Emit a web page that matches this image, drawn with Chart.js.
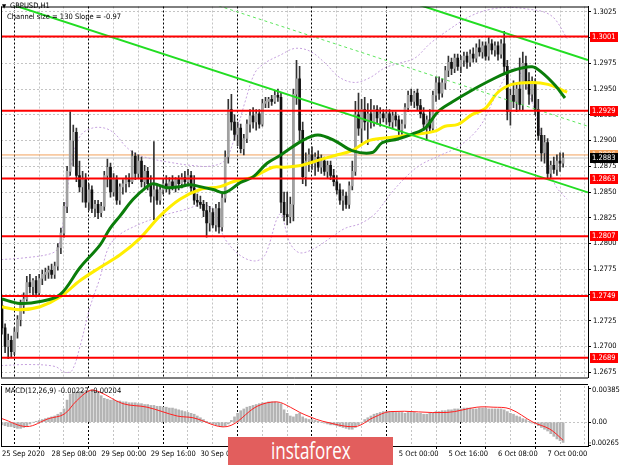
<!DOCTYPE html>
<html><head><meta charset="utf-8">
<script src="https://cdn.jsdelivr.net/npm/chart.js@4.4.1/dist/chart.umd.min.js"></script>
<style>
html,body{margin:0;padding:0;background:#fff;}
body{width:620px;height:465px;position:relative;overflow:hidden;}
canvas{position:absolute;left:0;}
#cMain{top:0;}
#cMacd{top:384px;}
.t{position:absolute;font-family:'DejaVu Sans Condensed','Liberation Sans',Arial,sans-serif;font-size:7.5px;color:#000;white-space:nowrap;line-height:1;}
#logo{position:absolute;left:228px;top:437px;width:165px;height:28px;background:#e25e5d;overflow:hidden;}
#logo span{position:absolute;left:43px;top:0;color:#fff;font-family:'Open Sans','Liberation Sans',sans-serif;font-size:23px;line-height:27px;transform-origin:0 50%;transform:scaleX(0.74);}
</style></head>
<body>
<canvas id="cMain" width="620" height="384"></canvas>
<canvas id="cMacd" width="620" height="81"></canvas>
<div class="t" style="left:2px;top:3px;font-size:6px">&#9660;</div>
<div class="t" style="left:10px;top:2px">GBPUSD,H1</div>
<div class="t" style="left:7px;top:13px">Channel size = 130 Slope = -0.97</div>
<div class="t" style="left:5px;top:387px">MACD(12,26,9) -0.00227 -0.00204</div>
<div id="logo"><span>instaforex</span></div>
<script>
// ---------- DATA ----------
const opens = [1.2740,1.2718,1.2700,1.2706,1.2695,1.2714,1.2726,1.2740,1.2746,1.2762,
1.2758,1.2764,1.2752,1.2766,1.2770,1.2772,1.2774,1.2770,1.2778,1.2796,
1.2810,1.2836,1.2870,1.2900,1.2908,1.2866,1.2855,1.2862,1.2840,1.2852,
1.2834,1.2838,1.2830,1.2836,1.2866,1.2874,1.2850,1.2862,1.2842,1.2855,
1.2858,1.2862,1.2860,1.2885,1.2868,1.2880,1.2860,1.2870,1.2858,1.2846,
1.2852,1.2842,1.2852,1.2858,1.2854,1.2860,1.2856,1.2862,1.2858,1.2864,
1.2860,1.2866,1.2854,1.2842,1.2840,1.2838,1.2832,1.2820,1.2830,1.2818,
1.2834,1.2816,1.2844,1.2884,1.2930,1.2918,1.2906,1.2912,1.2892,1.2902,
1.2916,1.2924,1.2918,1.2926,1.2916,1.2936,1.2938,1.2940,1.2938,1.2944,
1.2942,1.2840,1.2828,1.2826,1.2838,1.2945,1.2960,1.2910,1.2865,1.2880,
1.2886,1.2878,1.2884,1.2874,1.2880,1.2870,1.2876,1.2866,1.2860,1.2852,
1.2842,1.2846,1.2838,1.2856,1.2870,1.2925,1.2912,1.2930,1.2918,1.2926,
1.2918,1.2930,1.2922,1.2926,1.2922,1.2926,1.2918,1.2924,1.2920,1.2910,
1.2916,1.2932,1.2944,1.2938,1.2946,1.2934,1.2926,1.2916,1.2920,1.2912,
1.2944,1.2956,1.2946,1.2956,1.2968,1.2976,1.2970,1.2980,1.2972,1.2978,
1.2982,1.2976,1.2984,1.2980,1.2990,1.2986,1.2992,1.2982,1.2994,1.2988,
1.2992,1.2984,1.2994,1.2972,1.2928,1.2944,1.2938,1.2950,1.2935,1.2975,
1.2958,1.2945,1.2955,1.2930,1.2905,1.2888,1.2898,1.2868,1.2876,1.2872,
1.2880,1.2878];
const highs = [1.2745,1.2722,1.2712,1.2710,1.2718,1.2730,1.2745,1.2752,1.2768,1.2770,
1.2766,1.2768,1.2770,1.2774,1.2776,1.2778,1.2780,1.2782,1.2800,1.2815,
1.2840,1.2875,1.2928,1.2915,1.2912,1.2880,1.2870,1.2868,1.2858,1.2856,
1.2842,1.2842,1.2840,1.2870,1.2882,1.2878,1.2868,1.2866,1.2858,1.2862,
1.2866,1.2868,1.2890,1.2888,1.2886,1.2884,1.2876,1.2874,1.2866,1.2899,
1.2858,1.2856,1.2862,1.2866,1.2864,1.2866,1.2864,1.2866,1.2868,1.2870,
1.2872,1.2870,1.2866,1.2848,1.2846,1.2842,1.2840,1.2836,1.2834,1.2838,
1.2840,1.2848,1.2890,1.2940,1.2945,1.2925,1.2918,1.2916,1.2906,1.2920,
1.2930,1.2932,1.2930,1.2930,1.2940,1.2942,1.2942,1.2944,1.2948,1.2950,
1.2946,1.2850,1.2850,1.2845,1.2950,1.2978,1.2972,1.2918,1.2888,1.2892,
1.2894,1.2888,1.2890,1.2886,1.2884,1.2880,1.2880,1.2872,1.2866,1.2858,
1.2852,1.2850,1.2860,1.2880,1.2938,1.2946,1.2940,1.2942,1.2936,1.2940,
1.2934,1.2934,1.2932,1.2930,1.2930,1.2930,1.2928,1.2928,1.2924,1.2920,
1.2936,1.2948,1.2950,1.2948,1.2950,1.2940,1.2932,1.2924,1.2930,1.2948,
1.2962,1.2962,1.2960,1.2972,1.2982,1.2980,1.2984,1.2984,1.2982,1.2986,
1.2986,1.2988,1.2990,1.2994,1.2998,1.2996,1.2996,1.3000,1.2998,1.2996,
1.2996,1.2998,1.3006,1.2978,1.2950,1.2958,1.2955,1.2980,1.2986,1.2982,
1.2966,1.2962,1.2960,1.2940,1.2912,1.2905,1.2902,1.2880,1.2884,1.2886,
1.2888,1.2888];
const lows = [1.2712,1.2694,1.2688,1.2690,1.2692,1.2708,1.2720,1.2732,1.2744,1.2752,
1.2750,1.2748,1.2750,1.2760,1.2764,1.2766,1.2766,1.2766,1.2774,1.2790,
1.2806,1.2830,1.2866,1.2875,1.2860,1.2850,1.2840,1.2835,1.2832,1.2830,
1.2826,1.2824,1.2826,1.2832,1.2855,1.2845,1.2846,1.2838,1.2838,1.2848,
1.2850,1.2855,1.2858,1.2862,1.2864,1.2855,1.2854,1.2852,1.2840,1.2823,
1.2838,1.2838,1.2848,1.2850,1.2848,1.2852,1.2850,1.2852,1.2854,1.2856,
1.2856,1.2850,1.2838,1.2836,1.2834,1.2826,1.2806,1.2812,1.2815,1.2812,
1.2810,1.2812,1.2840,1.2878,1.2910,1.2900,1.2895,1.2888,1.2886,1.2898,
1.2908,1.2912,1.2910,1.2912,1.2914,1.2932,1.2932,1.2934,1.2936,1.2938,
1.2830,1.2822,1.2818,1.2820,1.2822,1.2935,1.2900,1.2858,1.2856,1.2870,
1.2872,1.2866,1.2870,1.2868,1.2866,1.2864,1.2862,1.2856,1.2848,1.2838,
1.2832,1.2834,1.2834,1.2852,1.2866,1.2905,1.2898,1.2910,1.2896,1.2912,
1.2914,1.2916,1.2914,1.2918,1.2916,1.2914,1.2912,1.2914,1.2904,1.2906,
1.2912,1.2928,1.2934,1.2932,1.2930,1.2922,1.2910,1.2900,1.2908,1.2908,
1.2938,1.2940,1.2942,1.2950,1.2962,1.2964,1.2966,1.2968,1.2966,1.2972,
1.2970,1.2972,1.2976,1.2976,1.2982,1.2980,1.2978,1.2978,1.2984,1.2982,
1.2978,1.2980,1.2966,1.2920,1.2915,1.2932,1.2928,1.2930,1.2930,1.2950,
1.2935,1.2938,1.2925,1.2900,1.2880,1.2878,1.2862,1.2863,1.2868,1.2866,
1.2870,1.2874];
const closes = [1.2718,1.2700,1.2706,1.2695,1.2714,1.2726,1.2740,1.2746,1.2762,1.2758,
1.2764,1.2752,1.2766,1.2770,1.2772,1.2774,1.2770,1.2778,1.2796,1.2810,
1.2836,1.2870,1.2900,1.2908,1.2866,1.2855,1.2862,1.2840,1.2852,1.2834,
1.2838,1.2830,1.2836,1.2866,1.2874,1.2850,1.2862,1.2842,1.2855,1.2858,
1.2862,1.2860,1.2885,1.2868,1.2880,1.2860,1.2870,1.2858,1.2846,1.2852,
1.2842,1.2852,1.2858,1.2854,1.2860,1.2856,1.2862,1.2858,1.2864,1.2860,
1.2866,1.2854,1.2842,1.2840,1.2838,1.2832,1.2820,1.2830,1.2818,1.2834,
1.2816,1.2844,1.2884,1.2930,1.2918,1.2906,1.2912,1.2892,1.2902,1.2916,
1.2924,1.2918,1.2926,1.2916,1.2936,1.2938,1.2940,1.2938,1.2944,1.2942,
1.2840,1.2828,1.2826,1.2838,1.2945,1.2960,1.2910,1.2865,1.2880,1.2886,
1.2878,1.2884,1.2874,1.2880,1.2870,1.2876,1.2866,1.2860,1.2852,1.2842,
1.2846,1.2838,1.2856,1.2870,1.2925,1.2912,1.2930,1.2918,1.2926,1.2918,
1.2930,1.2922,1.2926,1.2922,1.2926,1.2918,1.2924,1.2920,1.2910,1.2916,
1.2932,1.2944,1.2938,1.2946,1.2934,1.2926,1.2916,1.2920,1.2912,1.2944,
1.2956,1.2946,1.2956,1.2968,1.2976,1.2970,1.2980,1.2972,1.2978,1.2982,
1.2976,1.2984,1.2980,1.2990,1.2986,1.2992,1.2982,1.2994,1.2988,1.2992,
1.2984,1.2994,1.2972,1.2928,1.2944,1.2938,1.2950,1.2935,1.2975,1.2958,
1.2945,1.2955,1.2930,1.2905,1.2888,1.2898,1.2868,1.2876,1.2872,1.2880,
1.2878,1.2883];

const maGreenBars = [-0.3,5.8,12.3,18.7,25.2,31.6,34.8,38.1,42.3,46.8,48.7,53.2,57.4,60.6,63.9,68.1,71.9,76.8,81.0,85.5,89.7,96.8,101.9,107.4,112.9,119.4,122.6,127.7,132.3,136.5,140.6,145.2,151.6,158.1,164.5,171.0,174.2,178.4,181.6];
const maGreenVals = [1.27464,1.27417,1.27436,1.27502,1.27767,1.27984,1.28145,1.28268,1.28429,1.28552,1.28580,1.28542,1.28552,1.28571,1.28552,1.28524,1.28495,1.28590,1.28647,1.28779,1.28855,1.28997,1.29053,1.28997,1.28902,1.28883,1.28978,1.29015,1.29063,1.29120,1.29280,1.29375,1.29489,1.29593,1.29678,1.29716,1.29659,1.29536,1.29413];
const maYellowBars = [-0.3,5.8,12.3,18.7,25.2,31.6,38.1,44.5,51.0,57.4,63.9,70.3,74.5,81.0,87.4,91.3,96.8,101.9,107.4,112.9,118.1,123.5,129.0,134.2,139.7,142.9,147.1,151.6,155.8,160.0,164.5,171.0,176.1,182.3];
const maYellowVals = [1.27385,1.27356,1.27385,1.27479,1.27640,1.27767,1.27890,1.28050,1.28268,1.28429,1.28524,1.28552,1.28599,1.28647,1.28741,1.28741,1.28760,1.28807,1.28855,1.28902,1.28997,1.29025,1.29044,1.29063,1.29091,1.29139,1.29157,1.29252,1.29309,1.29469,1.29545,1.29564,1.29545,1.29470];

const bandUpBars = [-0.3,7.4,15.5,18.1,20.3,22.6,25.2,29.0,33.2,36.5,39.7,42.9,47.7,54.2,60.6,67.1,71.9,75.2,78.4,81.6,84.8,89.7,94.5,99.4,104.2,109.0,113.9,118.7,123.5,128.4,133.2,138.1,144.5,151.0,157.4,163.9,170.3,175.2,178.4,182.3];
const bandUpVals = [1.27843,1.27861,1.27899,1.27956,1.28334,1.28807,1.29044,1.29120,1.29120,1.29063,1.28949,1.28874,1.28826,1.28788,1.28760,1.28751,1.28807,1.29044,1.29375,1.29659,1.29753,1.29829,1.29895,1.29867,1.29753,1.29611,1.29564,1.29611,1.29706,1.29753,1.29801,1.29943,1.30084,1.30207,1.30274,1.30293,1.30274,1.30245,1.30179,1.29990];
const bandLoBars = [-0.3,9.0,17.1,20.3,22.6,25.2,28.4,31.6,34.2,37.4,42.9,51.0,59.0,65.5,68.7,71.9,76.8,81.6,84.8,89.7,92.9,96.1,101.0,105.8,110.6,115.5,120.3,125.2,130.0,134.8,141.3,147.7,154.2,159.0,162.3,165.5,168.7,171.9,175.2,178.4,182.3];
const bandLoVals = [1.26814,1.26824,1.26805,1.26748,1.26767,1.27004,1.27382,1.27666,1.27950,1.28074,1.28168,1.28263,1.28329,1.28377,1.28282,1.28046,1.27885,1.27830,1.27885,1.28287,1.28003,1.27909,1.27956,1.28051,1.28146,1.28192,1.28287,1.28476,1.28637,1.28760,1.28855,1.28949,1.29139,1.29422,1.29611,1.29706,1.29564,1.29280,1.28902,1.28571,1.28429];

const channelBars = [0, 189];
const channelLower = [1.30352, 1.28496];
const channelMid = [1.30995, 1.29139];
const channelUpper = [1.31639, 1.29783];

const levels = [1.3001, 1.2929, 1.2863, 1.2807, 1.2749, 1.2689];
const askPrice = 1.2886;
const bidPrice = 1.2883;
const priceTicks = [1.2675,1.2700,1.2725,1.2750,1.2775,1.2800,1.2825,1.2850,1.2875,1.2900,1.2925,1.2950,1.2975,1.3000,1.3025];

const macdHist = [-0.0003,-0.0004,-0.0005,-0.0005,
-0.0006,-0.0007,-0.0007,-0.0006,-0.0005,
-0.0002,0.0000,0.0001,
0.0002,0.0003,0.0004,0.0005,0.0006,0.0007,0.0009,0.0011,
0.0015,0.0025,0.0032,0.0034,0.0034,0.0035,0.0035,0.0036,0.0036,0.0037,0.0036,0.0035,
0.0030,0.0027,0.0026,0.0025,0.0025,0.0024,
0.0024,0.0023,0.0023,0.0022,0.0022,0.0022,0.0021,0.0021,0.0020,0.0020,0.0019,0.0019,0.0018,0.0018,0.0017,
0.0017,0.0016,0.0016,0.0015,0.0014,0.0013,0.0012,0.0011,0.0010,0.0009,0.0007,
0.0005,0.0003,0.0001,-0.0001,-0.0002,-0.0003,-0.0004,-0.0005,-0.0004,-0.0002,
0.0002,0.0006,0.0010,0.0013,0.0015,0.0017,0.0018,
0.0019,0.0020,0.0021,0.0022,0.0022,0.0023,0.0023,0.0023,0.0022,0.0021,
0.0014,0.0010,0.0007,0.0006,0.0009,0.0010,0.0006,0.0004,0.0003,0.0003,
0.0002,0.0001,0.0000,-0.0001,-0.0002,-0.0003,-0.0003,-0.0004,-0.0005,-0.0006,-0.0007,-0.0008,-0.0008,-0.0006,-0.0003,
0.0000,0.0003,0.0005,0.0007,0.0009,0.0010,0.0011,0.0012,0.0012,
0.0012,0.0012,0.0011,0.0011,0.0011,0.0010,0.0011,0.0011,0.0011,0.0010,0.0010,0.0009,0.0009,0.0010,0.0011,0.0012,0.0012,0.0013,0.0013,
0.0014,0.0014,0.0015,0.0015,0.0015,0.0016,0.0016,0.0016,0.0015,0.0015,0.0016,0.0016,0.0016,0.0015,0.0015,0.0015,0.0015,0.0015,0.0014,
0.0012,0.0010,0.0009,0.0007,0.0006,0.0004,0.0003,
0.0001,-0.0001,-0.0002,-0.0004,-0.0006,-0.0008,-0.0010,
-0.0013,-0.0016,-0.0019,-0.0021,-0.0023];
const signalBars = [0,8,15,20,24,28.4,31.6,39,46.8,56.5,61.6,72.6,82.3,88.7,93,96.1,99.4,103.5,113.9,119.7,125.2,143.5,153.2,158.4,163.9,171.3,176.8,181];
const signalVals = [0.0004,-0.0005,0.0004,0.0009,0.0024,0.0036,0.0034,0.0021,0.0017,0.0007,0.0005,-0.0005,0.0018,0.0023,0.0017,0.0011,0.0006,0.0001,-0.0005,0.0005,0.0012,0.0011,0.0017,0.0017,0.0015,0.0000,-0.0008,-0.00204];
const macdTicks = [-0.00265, 0, 0.00385];
const macdTickLabels = ['-0.00265', '0.00', '0.00385'];

const timeTickBars = [0,16,32,48,64,80,96,112,128,144,160,176];
const timeTickLabels = ['25 Sep 2020','28 Sep 08:00','29 Sep 00:00','29 Sep 16:00','30 Sep 08:00','1 Oct 00:00','1 Oct 16:00','2 Oct 08:00','5 Oct 00:00','5 Oct 16:00','6 Oct 08:00','7 Oct 00:00'];
const gridStep = 8;
const dayBars = 24, firstDayBar = 8;

// ---------- STYLE / LAYOUT ----------
const X_MIN = -0.32, X_MAX = 189.03;
const FONT = "'DejaVu Sans Condensed','Liberation Sans',Arial,sans-serif";
const FS = 7.5;
const gridBars = [];
for (let b = 0; b <= X_MAX; b += gridStep) gridBars.push(b);
const tv = c => (c && c.tick) ? c.tick.value : NaN;
const isDay = v => (v - firstDayBar) % dayBars === 0;
const pts = (xs, ys) => xs.map((x, i) => ({x, y: ys[i]}));
const hline = v => [{x: X_MIN, y: v}, {x: X_MAX, y: v}];
const xGridColor = c => isDay(tv(c)) ? '#000' : '#c4c4c4';

const framePlugin = {
  id: 'frame',
  afterDraw(chart) {
    const {ctx, chartArea: a} = chart;
    ctx.save();
    ctx.strokeStyle = '#000'; ctx.lineWidth = 1;
    ctx.beginPath();
    ctx.moveTo(a.left + 0.5, a.top); ctx.lineTo(a.left + 0.5, a.bottom);
    if (chart.canvas.id === 'cMacd') { ctx.moveTo(a.left, a.top - 1.5); ctx.lineTo(a.right, a.top - 1.5); }
    else { ctx.moveTo(a.left, a.top + 0.5); ctx.lineTo(a.right, a.top + 0.5); ctx.moveTo(a.left, a.bottom + 0.5); ctx.lineTo(a.right, a.bottom + 0.5); }
    ctx.stroke();
    ctx.restore();
  }
};

const boxPlugin = {
  id: 'boxes',
  afterDraw(chart) {
    const {ctx, scales: {y}} = chart;
    ctx.save();
    ctx.font = FS + 'px ' + FONT;
    ctx.textBaseline = 'middle';
    const box = (v, bg, fg) => {
      const py = Math.round(y.getPixelForValue(v));
      ctx.fillStyle = bg; ctx.fillRect(y.left + 2, py - 5, 28, 10);
      ctx.fillStyle = fg; ctx.fillText(v.toFixed(4), y.left + 4, py + 0.5);
    };
    levels.forEach(l => box(l, '#ff0000', '#ffffff'));
    box(askPrice, '#f2a15c', '#ffffff');
    box(bidPrice, '#000000', '#ffffff');
    ctx.restore();
  }
};

// MACD scale labels, kept inside the panel like the terminal does
const macdLabelPlugin = {
  id: 'macdLabels',
  afterDraw(chart) {
    const {ctx, chartArea: a, scales: {y}} = chart;
    ctx.save();
    ctx.font = FS + 'px ' + FONT;
    ctx.fillStyle = '#000';
    ctx.textBaseline = 'middle';
    macdTicks.forEach((v, k) => {
      const py = Math.min(Math.max(y.getPixelForValue(v), a.top + 4), a.bottom - 3);
      ctx.fillText(macdTickLabels[k], y.left + (v < 0 ? 1 : 4), py, 618 - y.left);
    });
    ctx.restore();
  }
};

const bull = '#a0a0a0', bear = '#111111';
const mainDatasets = [];
levels.forEach(l => mainDatasets.push({type: 'line', data: hline(l), borderColor: '#ff0000', borderWidth: 2, pointRadius: 0, order: 1}));
mainDatasets.push({type: 'line', data: pts(channelBars, channelUpper), borderColor: '#22dd22', borderWidth: 2, pointRadius: 0, order: 2});
mainDatasets.push({type: 'line', data: pts(channelBars, channelLower), borderColor: '#22dd22', borderWidth: 2, pointRadius: 0, order: 2});
mainDatasets.push({type: 'line', data: pts(channelBars, channelMid), borderColor: '#5ee65e', borderWidth: 1, borderDash: [3, 3], pointRadius: 0, order: 2});
mainDatasets.push({type: 'line', data: pts(maGreenBars, maGreenVals), borderColor: '#0a7d0a', borderWidth: 3, pointRadius: 0, tension: 0.35, order: 3});
mainDatasets.push({type: 'line', data: pts(maYellowBars, maYellowVals), borderColor: '#ffee00', borderWidth: 3, pointRadius: 0, tension: 0.35, order: 4});
mainDatasets.push({type: 'bar', data: opens.map((o, i) => ({x: i, y: [Math.min(o, closes[i]), Math.max(o, closes[i])]})),
  backgroundColor: c => (closes[c.dataIndex] >= opens[c.dataIndex]) ? bull : bear,
  barThickness: 2, minBarLength: 1, grouped: false, order: 5});
mainDatasets.push({type: 'bar', data: highs.map((h, i) => ({x: i, y: [lows[i], h]})),
  backgroundColor: '#333333', barThickness: 1, grouped: false, order: 6});
mainDatasets.push({type: 'line', data: pts(bandUpBars, bandUpVals), borderColor: '#c6a2de', borderWidth: 1, borderDash: [2, 2], pointRadius: 0, tension: 0.35, order: 7});
mainDatasets.push({type: 'line', data: pts(bandLoBars, bandLoVals), borderColor: '#c6a2de', borderWidth: 1, borderDash: [2, 2], pointRadius: 0, tension: 0.35, order: 7});
mainDatasets.push({type: 'line', data: hline(askPrice), borderColor: '#f2a15c', borderWidth: 1, pointRadius: 0, order: 8});
mainDatasets.push({type: 'line', data: hline(bidPrice), borderColor: '#c0c0c0', borderWidth: 1, pointRadius: 0, order: 8});

new Chart(document.getElementById('cMain'), {
  type: 'bar',
  data: {datasets: mainDatasets},
  options: {
    responsive: false, animation: false, devicePixelRatio: 1,
    layout: {padding: {left: 1, right: 0, top: 2, bottom: 1}},
    plugins: {legend: {display: false}, tooltip: {enabled: false}},
    scales: {
      x: {
        type: 'linear', min: X_MIN, max: X_MAX, offset: false,
        afterBuildTicks: s => { s.ticks = gridBars.map(v => ({value: v})); },
        afterFit: s => { s.height = 0; },
        grid: {color: xGridColor, lineWidth: 1, drawTicks: false},
        border: {display: false, dash: [2, 2]},
        ticks: {display: false}
      },
      y: {
        type: 'linear', position: 'right', min: 1.26698, max: 1.30302,
        afterBuildTicks: s => { s.ticks = priceTicks.map(v => ({value: v})); },
        afterFit: s => { s.width = 32; },
        grid: {color: '#c4c4c4', drawTicks: true, tickLength: 3, tickColor: '#000'},
        border: {display: true, color: '#000', dash: [2, 2]},
        ticks: {color: '#000', font: {family: FONT, size: FS}, padding: 2, callback: v => Number(v).toFixed(4)}
      }
    }
  },
  plugins: [framePlugin, boxPlugin]
});

new Chart(document.getElementById('cMacd'), {
  type: 'bar',
  data: {datasets: [
    {type: 'line', data: pts(signalBars, signalVals), borderColor: '#ff2020', borderWidth: 1, pointRadius: 0, tension: 0.35, order: 1},
    {type: 'bar', data: macdHist.map((v, i) => ({x: i, y: v})), backgroundColor: '#b4b4b4', barThickness: 2, order: 2}
  ]},
  options: {
    responsive: false, animation: false, devicePixelRatio: 1,
    layout: {padding: {left: 1, right: 0, top: 2, bottom: 0}},
    plugins: {legend: {display: false}, tooltip: {enabled: false}},
    scales: {
      x: {
        type: 'linear', min: X_MIN, max: X_MAX, offset: false,
        afterBuildTicks: s => { s.ticks = gridBars.map(v => ({value: v})); },
        afterFit: s => { s.height = 19; },
        grid: {color: xGridColor, drawTicks: true, tickLength: 3,
               tickColor: c => timeTickBars.includes(tv(c)) ? '#000' : 'rgba(0,0,0,0)'},
        border: {display: true, color: '#000', dash: [2, 2]},
        ticks: {autoSkip: false, maxRotation: 0, align: 'start', padding: 1, color: '#000', font: {family: FONT, size: FS},
                callback: v => { const k = timeTickBars.indexOf(v); return k >= 0 ? timeTickLabels[k] : ''; }}
      },
      y: {
        type: 'linear', position: 'right', min: -0.0027, max: 0.0041,
        afterBuildTicks: s => { s.ticks = macdTicks.map(v => ({value: v})); },
        afterFit: s => { s.width = 32; },
        grid: {color: c => tv(c) === 0 ? '#c4c4c4' : 'rgba(0,0,0,0)', drawTicks: true, tickLength: 3, tickColor: '#000'},
        border: {display: true, color: '#000', dash: [2, 2]},
        ticks: {display: false}
      }
    }
  },
  plugins: [framePlugin, macdLabelPlugin]
});
</script>
</body></html>
